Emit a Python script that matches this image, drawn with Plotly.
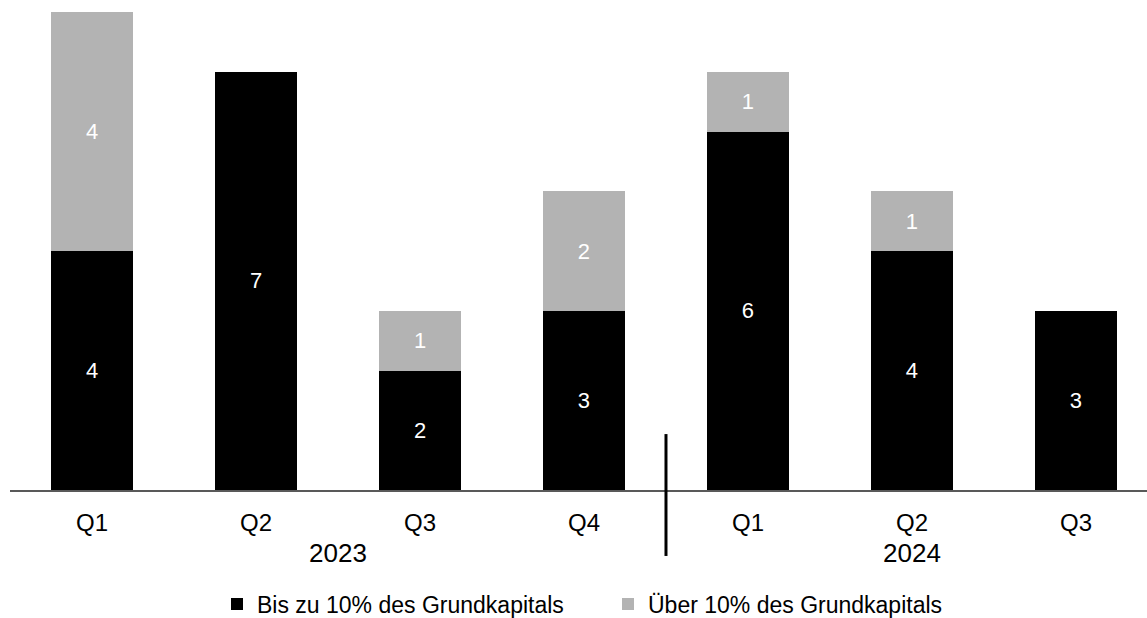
import plotly.graph_objects as go

quarters = ["Q1", "Q2", "Q3", "Q4", "Q1", "Q2", "Q3"]
years = ["2023", "2023", "2023", "2023", "2024", "2024", "2024"]
bis_10 = [4, 7, 2, 3, 6, 4, 3]
ueber_10 = [4, 0, 1, 2, 1, 1, 0]
series_names = ["Bis zu 10% des Grundkapitals", "Über 10% des Grundkapitals"]

FONT = "Liberation Sans, Arial, sans-serif"
cats = [f"{q} {y}" for q, y in zip(quarters, years)]

def labels(vals):
    return [str(v) if v else "" for v in vals]

fig = go.Figure()
fig.add_trace(go.Bar(
    x=cats, y=bis_10, name=series_names[0],
    marker=dict(color="#000000", line=dict(width=0)),
    text=labels(bis_10), textposition="inside", insidetextanchor="middle",
    textfont=dict(color="white", size=22, family=FONT),
    textangle=0,
))
fig.add_trace(go.Bar(
    x=cats, y=ueber_10, name=series_names[1],
    marker=dict(color="#B3B3B3", line=dict(width=0)),
    text=labels(ueber_10), textposition="inside", insidetextanchor="middle",
    textfont=dict(color="white", size=22, family=FONT),
    textangle=0,
))

# year labels centred under their quarters
for yr in sorted(set(years)):
    idx = [i for i, y in enumerate(years) if y == yr]
    center = (idx[0] + idx[-1]) / 2
    fig.add_annotation(x=center, xref="x", y=-0.1318, yref="paper",
                       text=yr, showarrow=False, yanchor="middle",
                       font=dict(size=26, color="black", family=FONT))

# separator between years
split = [i for i in range(1, len(years)) if years[i] != years[i - 1]][0] - 0.5
fig.add_shape(type="line", xref="x", yref="paper", x0=split, x1=split,
              y0=0.117, y1=-0.138, line=dict(color="black", width=3))

fig.update_layout(
    barmode="stack", bargap=0.5,
    width=1147, height=618,
    margin=dict(l=10, r=0, t=12, b=128, autoexpand=False),
    plot_bgcolor="white", paper_bgcolor="white",
    font=dict(family=FONT, color="black"),
    showlegend=True,
    legend=dict(orientation="h", x=(231 - 14 - 10) / 1137, xanchor="left",
                y=-0.2385, yanchor="middle", font=dict(size=23, family=FONT),
                traceorder="normal", entrywidth=346, entrywidthmode="pixels"),
)
fig.update_xaxes(tickvals=cats, ticktext=quarters, range=[-0.5, 6.433],
                 showline=True, linecolor="#595959", linewidth=2,
                 ticks="outside", ticklen=10, tickcolor="rgba(0,0,0,0)",
                 tickfont=dict(size=24, family=FONT, color="black"),
                 showgrid=False, zeroline=False)
fig.update_yaxes(visible=False, range=[0, 8], showgrid=False, zeroline=False)

fig.write_html("out.html",
               config={"displayModeBar": False},
               post_script="document.body.style.margin='0';"
                           "document.body.style.overflow='hidden';")
